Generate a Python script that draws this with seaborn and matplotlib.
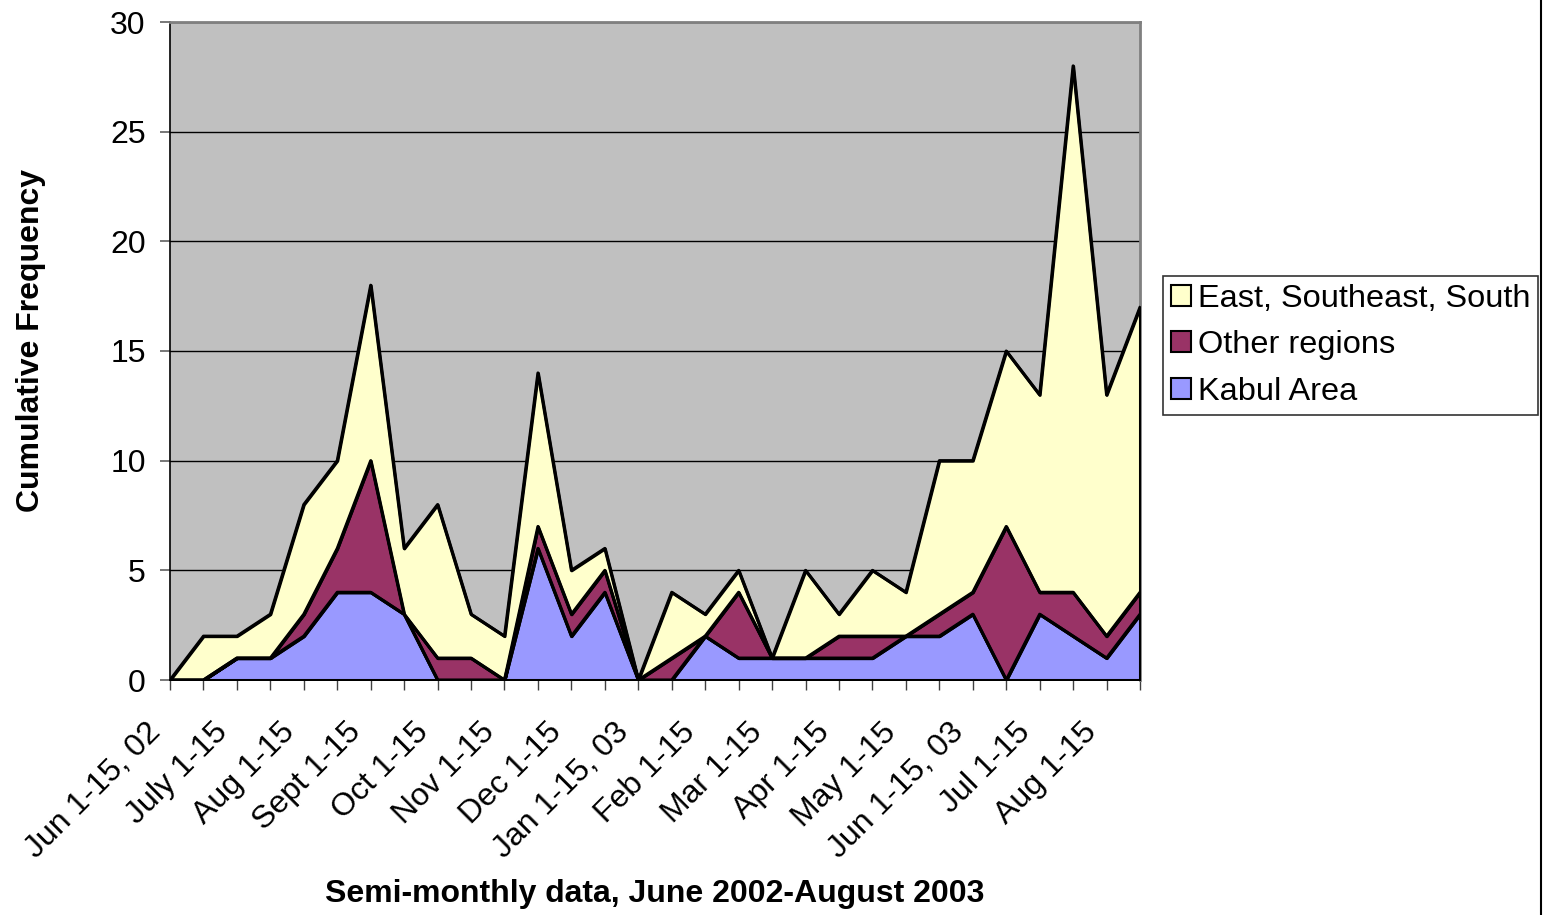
import matplotlib
matplotlib.use("Agg")
import matplotlib.pyplot as plt
import matplotlib.transforms as mtransforms
from matplotlib.patches import Patch
from matplotlib.lines import Line2D
import pandas as pd
import seaborn as sns

# Semi-monthly periods, June 2002 - August 2003 (two per month)
periods = list(range(30))
tick_labels = ["Jun 1-15, 02", "July 1-15", "Aug 1-15", "Sept 1-15", "Oct 1-15",
               "Nov 1-15", "Dec 1-15", "Jan 1-15, 03", "Feb 1-15", "Mar 1-15",
               "Apr 1-15", "May 1-15", "Jun 1-15, 03", "Jul 1-15", "Aug 1-15"]

kabul = [0, 0, 1, 1, 2, 4, 4, 3, 0, 0, 0, 6, 2, 4, 0,
         0, 2, 1, 1, 1, 1, 1, 2, 2, 3, 0, 3, 2, 1, 3]
other = [0, 0, 0, 0, 1, 2, 6, 0, 1, 1, 0, 1, 1, 1, 0,
         1, 0, 3, 0, 0, 1, 1, 0, 1, 1, 7, 1, 2, 1, 1]
east = [0, 2, 1, 2, 5, 4, 8, 3, 7, 2, 2, 7, 2, 1, 0,
        3, 1, 1, 0, 4, 1, 3, 2, 7, 6, 8, 9, 24, 11, 13]

series_names = ["Kabul Area", "Other regions", "East, Southeast, South"]
series_colors = ["#9999FF", "#993366", "#FFFFCC"]

df = pd.DataFrame({"period": periods, "Kabul Area": kabul,
                   "Other regions": other, "East, Southeast, South": east})

sns.set_style("white")
plt.rcParams["font.family"] = ["Liberation Sans", "DejaVu Sans"]
plt.rcParams["text.color"] = "black"
plt.rcParams["axes.labelcolor"] = "black"
plt.rcParams["xtick.color"] = "black"
plt.rcParams["ytick.color"] = "black"

W, H = 1543, 915
fig = plt.figure(figsize=(W / 100, H / 100), dpi=100)
ax = fig.add_axes([170 / W, 1 - 680 / H, (1140 - 170) / W, (680 - 22) / H])
ax.set_facecolor("#C0C0C0")

# stacked areas with black outlines
ax.stackplot(df["period"], [df[n] for n in series_names], colors=series_colors,
             edgecolor="black", linewidth=2.2, zorder=3)

# cumulative boundary lines drawn through seaborn
cum = df[series_names].cumsum(axis=1)
for n in series_names:
    sns.lineplot(x=df["period"], y=cum[n], ax=ax, color="black", linewidth=2.2,
                 zorder=4, legend=False)

ax.set_xlim(0, 29)
ax.set_ylim(0, 30)
ax.set_yticks(range(0, 31, 5))
ax.yaxis.grid(True, color="black", linewidth=1.0, zorder=1)
ax.set_axisbelow(True)

ax.set_xticks(periods)
ax.set_xticklabels([tick_labels[i // 2] if i % 2 == 0 else "" for i in periods],
                   rotation=45, ha="right", va="center", rotation_mode="anchor",
                   fontsize=23)
ax.tick_params(axis="x", direction="out", length=7.5, width=1, color="#404040",
               pad=24, bottom=True, labelcolor="black")
ax.tick_params(axis="y", direction="out", length=7.5, width=1.2, color="#606060",
               pad=10, labelsize=23, left=True, labelcolor="black")

shift = mtransforms.ScaledTranslation(-0.14, -0.04, fig.dpi_scale_trans)
for lbl in ax.get_xticklabels():
    lbl.set_transform(lbl.get_transform() + shift)

for side in ["top", "right"]:
    ax.spines[side].set_color("#808080")
    ax.spines[side].set_linewidth(2)
ax.spines["left"].set_color("black")
ax.spines["left"].set_linewidth(1.2)
ax.spines["bottom"].set_color("black")
ax.spines["bottom"].set_linewidth(1.2)
ax.set_xlabel("")
ax.set_ylabel("")

fig.text(31 / W, 1 - 340 / H, "Cumulative Frequency", rotation=90,
         ha="center", va="center", fontsize=23, fontweight="bold")
fig.text(655 / W, 1 - 894 / H, "Semi-monthly data, June 2002-August 2003",
         ha="center", va="center", fontsize=23, fontweight="bold")

# chart-area border on the right edge
fig.add_artist(Line2D([1540.5 / W, 1540.5 / W], [0, 1], color="black",
                      linewidth=1.5, transform=fig.transFigure))

handles = [Patch(facecolor=c, edgecolor="black", linewidth=1.5)
           for c in series_colors[::-1]]
leg = fig.legend(handles, series_names[::-1], loc="upper left",
                 bbox_to_anchor=(1163 / W, 1 - 276 / H), borderaxespad=0,
                 fontsize=23.4, frameon=True, fancybox=False, edgecolor="black",
                 handlelength=0.62, handleheight=0.62, handletextpad=0.2,
                 labelspacing=0.5, borderpad=0.25)
leg.get_frame().set_linewidth(1.2)

fig.savefig("out.png", dpi=100, facecolor="white")
